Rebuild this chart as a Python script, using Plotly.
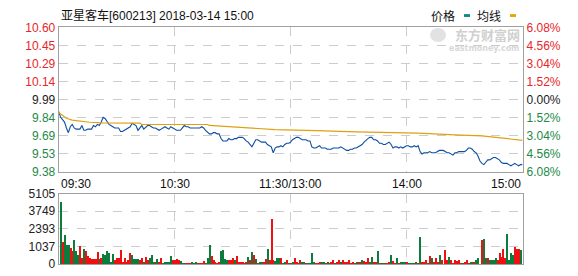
import numpy as np
import plotly.graph_objects as go

# ---------------- data ----------------
title_text = "亚星客车[600213] 2018-03-14 15:00"
prev_close = 9.99

price_ticks = ["9.38", "9.53", "9.69", "9.84", "9.99", "10.14", "10.29", "10.45", "10.60"]
pct_ticks = ["6.08%", "4.56%", "3.04%", "1.52%", "0.00%", "1.52%", "3.04%", "4.56%", "6.08%"]
vol_ticks = ["0", "1037", "2393", "3749", "5105"]
time_labels = ["09:30", "10:30", "11:30/13:00", "14:00", "15:00"]
time_minutes = [0, 60, 120, 180, 240]

price = [
    9.89, 9.84, 9.82, 9.80, 9.75, 9.71, 9.76, 9.78, 9.75, 9.74,
    9.74, 9.74, 9.77, 9.73, 9.73, 9.74, 9.74, 9.74, 9.77, 9.76,
    9.78, 9.77, 9.80, 9.84, 9.83, 9.80, 9.78, 9.77, 9.76, 9.75,
    9.75, 9.75, 9.72, 9.72, 9.73, 9.74, 9.75, 9.76, 9.79, 9.78,
    9.77, 9.73, 9.75, 9.77, 9.74, 9.76, 9.77, 9.77, 9.76, 9.75,
    9.75, 9.74, 9.73, 9.74, 9.75, 9.76, 9.75, 9.74, 9.76, 9.75,
    9.74, 9.73, 9.73, 9.73, 9.75, 9.77, 9.76, 9.76, 9.75, 9.75,
    9.75, 9.75, 9.75, 9.75, 9.76, 9.75, 9.73, 9.71, 9.70, 9.70,
    9.71, 9.71, 9.70, 9.70, 9.66, 9.64, 9.64, 9.64, 9.66, 9.65,
    9.65, 9.66, 9.66, 9.67, 9.67, 9.67, 9.66, 9.64, 9.63, 9.61,
    9.59, 9.62, 9.65, 9.65, 9.64, 9.63, 9.63, 9.63, 9.61, 9.60,
    9.59, 9.54, 9.58, 9.59, 9.59, 9.60, 9.59, 9.61, 9.62, 9.62,
    9.63, 9.65, 9.66, 9.67, 9.67, 9.66, 9.65, 9.65, 9.65, 9.64,
    9.64, 9.59, 9.58, 9.58, 9.59, 9.60, 9.58, 9.58, 9.58, 9.57,
    9.57, 9.57, 9.58, 9.58, 9.58, 9.58, 9.59, 9.58, 9.57, 9.56,
    9.56, 9.57, 9.57, 9.58, 9.58, 9.59, 9.60, 9.61, 9.63, 9.65,
    9.66, 9.67, 9.67, 9.65, 9.65, 9.64, 9.62, 9.62, 9.61, 9.61,
    9.62, 9.63, 9.61, 9.58, 9.59, 9.59, 9.58, 9.59, 9.58, 9.59,
    9.60, 9.60, 9.59, 9.59, 9.60, 9.59, 9.60, 9.55, 9.53, 9.54,
    9.54, 9.54, 9.55, 9.54, 9.54, 9.54, 9.55, 9.56, 9.56, 9.56,
    9.55, 9.54, 9.54, 9.53, 9.52, 9.54, 9.54, 9.55, 9.55, 9.55,
    9.55, 9.56, 9.58, 9.58, 9.57, 9.55, 9.54, 9.51, 9.47, 9.45,
    9.44, 9.46, 9.48, 9.48, 9.49, 9.50, 9.50, 9.49, 9.48, 9.46,
    9.45, 9.45, 9.45, 9.44, 9.43, 9.44, 9.45, 9.44, 9.43, 9.44,
    9.44,
]

avg_minutes = [0, 2, 4, 7, 11, 16, 23, 42, 43, 77, 78, 85, 97, 104, 112,
               133, 154, 186, 194, 205, 219, 224, 230, 234, 237, 240]
avg_values = [9.880, 9.859, 9.832, 9.816, 9.806, 9.798, 9.792, 9.790, 9.779,
              9.779, 9.771, 9.763, 9.755, 9.747, 9.736, 9.728, 9.717, 9.707,
              9.699, 9.691, 9.683, 9.674, 9.666, 9.656, 9.648, 9.645]

volume = [
    4531, 1656, 2116, 1426, 1426, 1242, 1012, 1771, 966, 736,
    1380, 506, 1150, 966, 621, 460, 391, 391, 391, 920,
    391, 506, 805, 690, 1012, 851, 230, 805, 322, 460,
    460, 1058, 230, 460, 230, 322, 851, 736, 391, 391,
    391, 322, 460, 230, 552, 368, 460, 736, 230, 161,
    391, 161, 460, 92, 207, 207, 207, 644, 322, 368,
    414, 322, 276, 92, 92, 92, 92, 92, 230, 92,
    230, 138, 92,
    138, 276, 138, 460, 1426, 621, 322, 184, 92, 230,
    1012, 1081, 391, 368, 322, 368, 506, 368, 598, 230,
    184, 230, 138, 230, 552, 368, 920, 736, 391, 138,
    184, 230, 161, 391, 1150, 322, 3312, 322, 276, 506,
    506, 506, 92, 161, 322, 138, 138, 184, 460, 230,
    138, 368, 230, 184, 138, 92, 92, 874, 230, 138,
    138, 230, 230, 230, 138, 230, 92, 230, 368, 138,
    184, 322, 230, 322, 230, 230, 322, 138, 230, 92,
    184, 184, 230, 322, 276, 230, 506, 230, 552, 184,
    230, 1012, 92, 92, 138, 138, 138, 230, 690, 276, 92,
    460, 138, 184, 184, 184, 184, 138, 138, 138, 92,
    184, 138, 1978, 184, 184, 322, 138, 598, 460, 184,
    460, 230, 736, 368, 46, 1081, 322, 552, 368, 138,
    322, 276, 322, 92, 138, 230, 322, 138, 184, 230,
    230, 322, 506, 46, 1794, 1840, 460, 460, 368, 368,
    322, 506, 368, 874, 552, 1150, 460, 2231, 368, 828,
    736, 1288, 1150, 1150, 1058,
]
direction = list(
    "grggg" "rrggg" "rrgrr" "rrrrr" "grggg" "gggrr" "rrrrr" "rrggg" "grrgr"
    "rgggr" "grrgg" "gggrr" "rrggg" "rrrgg" "gr" "r"
    "rrggg" "rrrrr" "ggggr" "rrgrr" "rrrrg" "rgrgr" "ggrrg" "rrrgg" "grggr"
    "grgrr" "grggr" "ggggr" "rrggg" "rgrrg" "rrgrr" "rrrrg" "rgrgr" "rrgg"
    "rrgrg" "grrrg" "rr"
    "grggg" "rgggr" "grgrr" "rgrgr" "rrgrg" "rrgrr" "rrrrg" "rrrgg" "rgggr"
    "ggrgg" "ggrrr" "rrggg" "grrrg" "grgrr" "r"
)
red = "#ee1111"
green = "#0c7c3c"

# ---------------- figure ----------------
W, H = 578, 276
x0, x1 = 58.7 / W, 522.5 / W
vol_minutes = list(range(1, len(volume) + 1))
minutes = list(range(len(price)))
bar_colors = [red if d == "r" else green for d in direction[:len(volume)]]
while len(bar_colors) < len(volume):
    bar_colors.append(red)

lo, hi = float(price_ticks[0]), float(price_ticks[-1])
ptick_vals = list(np.linspace(lo, hi, len(price_ticks)))


def col_for(i, n):
    mid = (n - 1) / 2
    if i > mid:
        return "#e8262a"
    if i < mid:
        return "#1e8a47"
    return "#222222"


left_text = [f'<span style="color:{col_for(i, len(price_ticks))}">{t}</span>'
             for i, t in enumerate(price_ticks)]
right_text = [f'<span style="color:{col_for(i, len(pct_ticks))}">{t}</span>'
              for i, t in enumerate(pct_ticks)]

fig = go.Figure()
fig.add_trace(go.Scatter(x=minutes, y=price, mode="lines",
                         line=dict(color="#0b4ea2", width=1.1),
                         xaxis="x", yaxis="y", hoverinfo="skip"))
fig.add_trace(go.Scatter(x=avg_minutes, y=avg_values, mode="lines",
                         line=dict(color="#e0a010", width=1.2),
                         xaxis="x", yaxis="y", hoverinfo="skip"))
fig.add_trace(go.Scatter(x=[0, 240], y=[prev_close, prev_close], mode="lines",
                         line=dict(color="rgba(0,0,0,0)", width=0),
                         xaxis="x", yaxis="y2", hoverinfo="skip"))
fig.add_trace(go.Bar(x=vol_minutes, y=volume, marker=dict(color=bar_colors, line=dict(width=0)),
                     width=0.6, xaxis="x2", yaxis="y3", hoverinfo="skip"))

font_main = "Liberation Sans, Arial, sans-serif"
grid = dict(showgrid=True, gridcolor="#cccccc", griddash="dash", gridwidth=1)
box = dict(showline=True, mirror=True, linecolor="#a0a0a0", linewidth=1, zeroline=False)

fig.update_layout(
    width=W, height=H, autosize=False,
    margin=dict(l=0, r=0, t=0, b=0),
    paper_bgcolor="white", plot_bgcolor="white",
    showlegend=False, bargap=0,
    font=dict(family=font_main, size=12, color="#222222"),
    xaxis=dict(domain=[x0, x1], range=[0, 240], anchor="y", tickvals=time_minutes,
               showticklabels=False, ticks="", **grid, **box),
    yaxis=dict(domain=[(H - 173.5) / H, (H - 21.5) / H], range=[lo, hi], anchor="x",
               tickvals=ptick_vals, ticktext=left_text, ticks="",
               tickfont=dict(size=12, family=font_main), **grid, **box),
    yaxis2=dict(overlaying="y", side="right", range=[lo, hi], anchor="x",
                tickvals=ptick_vals, ticktext=right_text, ticks="", showgrid=False,
                zeroline=False, showline=False, ticklabelstandoff=3,
                tickfont=dict(size=12, family=font_main)),
    xaxis2=dict(domain=[x0, x1], range=[0, 240], anchor="y3", tickvals=time_minutes,
                showticklabels=False, ticks="", **grid, **box),
    yaxis3=dict(domain=[(H - 271) / H, (H - 196.5) / H], range=[0, 5105], anchor="x2",
                tickvals=list(np.linspace(0, 5105, len(vol_ticks))), ticktext=vol_ticks,
                ticks="", tickfont=dict(size=12, family=font_main, color="#222222"),
                **grid, **box),
)

ann = []
# title
ann.append(dict(text=title_text, x=59 / W, y=(H - 9) / H, xref="paper", yref="paper",
                xanchor="left", yanchor="middle", showarrow=False,
                font=dict(size=12, family="Liberation Sans, Noto Sans CJK SC", color="#111")))
# legend
ann.append(dict(text="价格", x=457 / W, y=(H - 9) / H, xref="paper", yref="paper",
                xanchor="right", yanchor="middle", showarrow=False,
                font=dict(size=12, family="Noto Sans CJK SC", color="#111")))
ann.append(dict(text="均线", x=503 / W, y=(H - 9) / H, xref="paper", yref="paper",
                xanchor="right", yanchor="middle", showarrow=False,
                font=dict(size=12, family="Noto Sans CJK SC", color="#111")))
# watermark
ann.append(dict(text="<b>东方财富网</b>", x=522 / W, y=(H - 29) / H, xref="paper", yref="paper",
                xanchor="right", yanchor="middle", showarrow=False,
                font=dict(size=13, family="Noto Sans CJK SC", color="#d0d0d0")))
ann.append(dict(text="<b>eastmoney.com</b>", x=521 / W, y=(H - 44) / H, xref="paper", yref="paper",
                xanchor="right", yanchor="middle", showarrow=False,
                font=dict(size=8, family="DejaVu Sans", color="#d8d8d8")))
# time labels
anchors = ["left", "center", "center", "center", "right"]
for t, m, a in zip(time_labels, time_minutes, anchors):
    ann.append(dict(text=t, x=m, y=(H - 186) / H, xref="x", yref="paper",
                    xanchor=a, yanchor="middle", showarrow=False,
                    font=dict(size=12, family=font_main, color="#111")))
fig.update_layout(annotations=ann)

fig.update_layout(shapes=[
    dict(type="rect", xref="paper", yref="paper", x0=464 / W, x1=470 / W,
         y0=(H - 10.5) / H, y1=(H - 7.5) / H, fillcolor="#0a8a8a", line=dict(width=0)),
    dict(type="rect", xref="paper", yref="paper", x0=510 / W, x1=516 / W,
         y0=(H - 10.5) / H, y1=(H - 7.5) / H, fillcolor="#e0a800", line=dict(width=0)),
    dict(type="circle", xref="paper", yref="paper", x0=430 / W, x1=446 / W,
         y0=(H - 37) / H, y1=(H - 22) / H, fillcolor="#e2e2e2", line=dict(width=0),
         layer="below"),
])

fig.write_html("out.html")
